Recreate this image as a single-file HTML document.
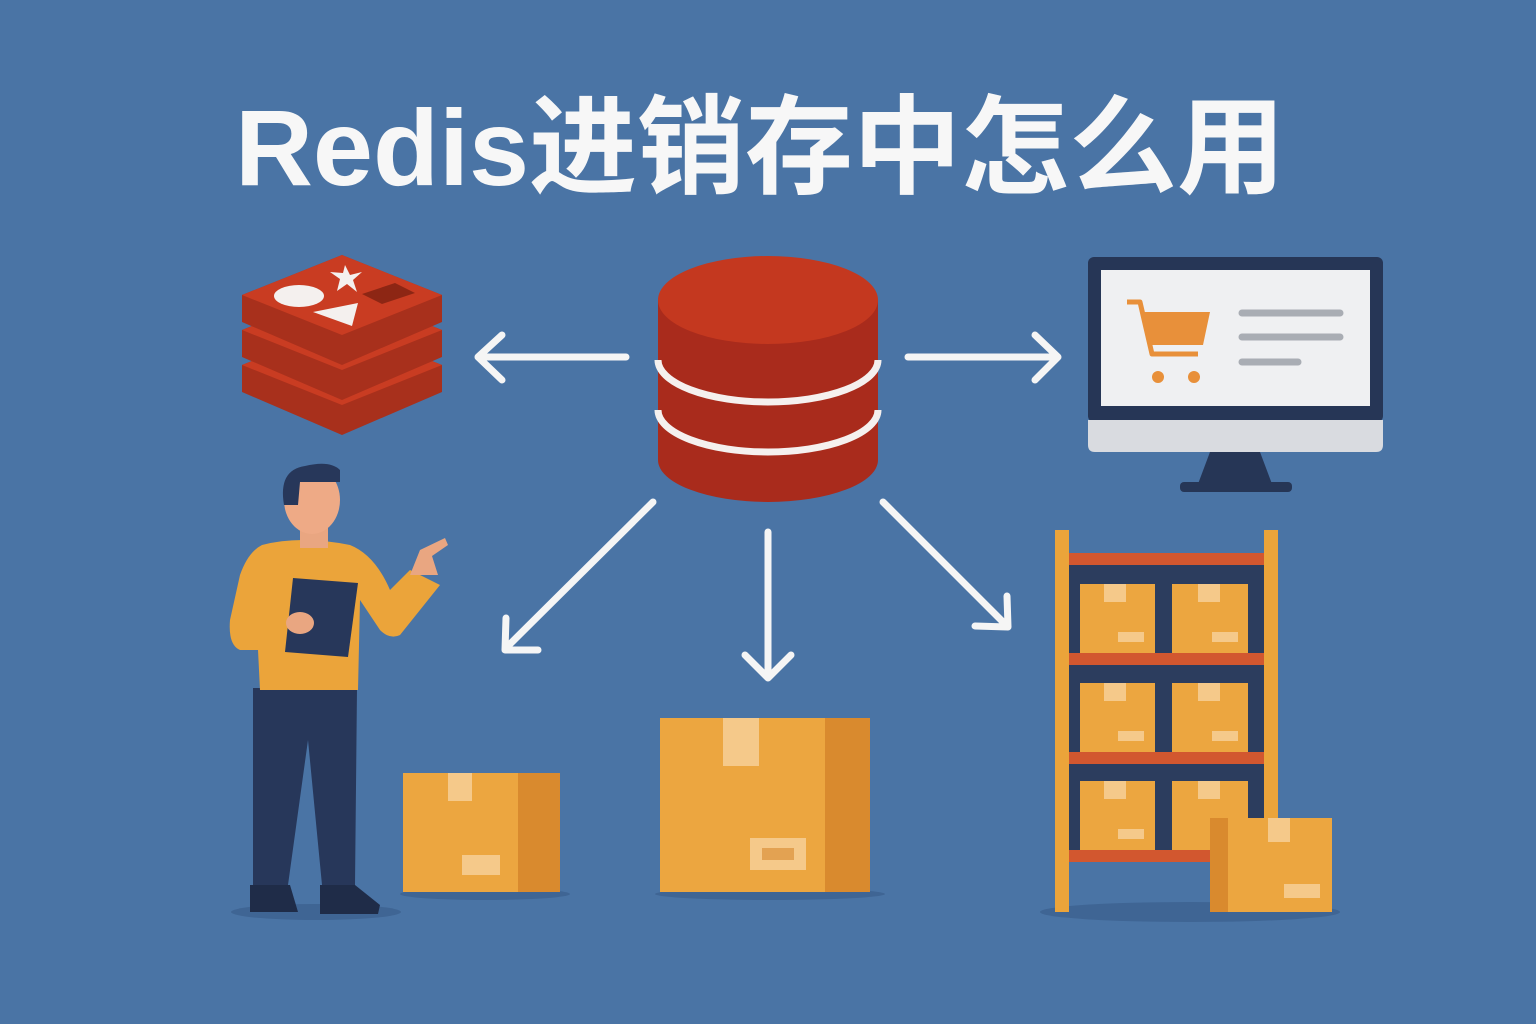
<!DOCTYPE html>
<html><head><meta charset="utf-8"><style>
html,body{margin:0;padding:0;background:#4a74a5;}
svg{display:block}
</style></head><body>
<svg width="1536" height="1024" viewBox="0 0 1536 1024" xmlns="http://www.w3.org/2000/svg">
<rect width="1536" height="1024" fill="#4a74a5"/>
<text x="760" y="185" text-anchor="middle" font-family="'Liberation Sans','Noto Sans CJK SC',sans-serif" font-weight="bold" font-size="108" fill="#f7f7f7">Redis进销存中怎么用</text>

<!-- Redis logo -->
<g>
  <path d="M242 365 L342 325 L442 365 L442 392 L342 435 L242 392 Z" fill="#a8301c"/>
  <path d="M242 365 L342 325 L442 365 L342 405 Z" fill="#c93c22"/>
  <path d="M242 330 L342 290 L442 330 L442 357 L342 400 L242 357 Z" fill="#a8301c"/>
  <path d="M242 330 L342 290 L442 330 L342 370 Z" fill="#c93c22"/>
  <path d="M242 295 L342 255 L442 295 L442 322 L342 365 L242 322 Z" fill="#a8301c"/>
  <path d="M242 295 L342 255 L442 295 L342 335 Z" fill="#c93c22"/>
  <ellipse cx="299" cy="296" rx="25" ry="11" fill="#f4f0ee"/>
  <polygon points="345,265 350,275 362,272 353,280 357,292 347,284 337,291 340,279 330,272 343,273" fill="#f4f0ee"/>
  <polygon points="313,312 358,303 352,326" fill="#f4f0ee"/>
  <polygon points="362,294 395,283 415,293 382,304" fill="#8d2614"/>
</g>

<!-- cylinder -->
<g>
  <path d="M658 300 L658 460 A110 42 0 0 0 878 460 L878 300 Z" fill="#a92b1c"/>
  <path d="M658 360 A110 42 0 0 0 878 360" fill="none" stroke="#f5f0ee" stroke-width="7"/>
  <path d="M658 410 A110 42 0 0 0 878 410" fill="none" stroke="#f5f0ee" stroke-width="7"/>
  <ellipse cx="768" cy="300" rx="110" ry="44" fill="#c4381f"/>
</g>

<!-- arrows -->
<g stroke="#f5f5f5" stroke-width="7" stroke-linecap="round" stroke-linejoin="round" fill="none">
  <path d="M626 357 L480 357 M502 335 L478 357 L502 380"/>
  <path d="M908 357 L1056 357 M1035 335 L1058 357 L1035 380"/>
  <path d="M653 502 L506 648 M506 618 L505 650 L538 650"/>
  <path d="M768 532 L768 676 M745 655 L768 678 L791 655"/>
  <path d="M883 502 L1005 624 M975 626 L1008 627 L1007 596"/>
</g>

<!-- monitor -->
<g>
  <rect x="1088" y="257" width="295" height="165" rx="6" fill="#263656"/>
  <rect x="1101" y="270" width="269" height="136" fill="#eff0f2"/>
  <path d="M1088 420 L1383 420 L1383 445 Q1383 452 1376 452 L1095 452 Q1088 452 1088 445 Z" fill="#d9dbe0"/>
  <polygon points="1210,452 1260,452 1272,484 1198,484" fill="#263656"/>
  <rect x="1180" y="482" width="112" height="10" rx="4" fill="#263656"/>
  <path d="M1127 302 L1140 302 L1152 354 L1198 354" fill="none" stroke="#e8903a" stroke-width="5" stroke-linejoin="round"/>
  <polygon points="1142,312 1210,312 1203,345 1150,345" fill="#e8903a"/>
  <circle cx="1158" cy="377" r="6" fill="#e8903a"/>
  <circle cx="1194" cy="377" r="6" fill="#e8903a"/>
  <g stroke="#a9adb4" stroke-width="7" stroke-linecap="round">
    <line x1="1242" y1="313" x2="1340" y2="313"/>
    <line x1="1242" y1="337" x2="1340" y2="337"/>
    <line x1="1242" y1="362" x2="1298" y2="362"/>
  </g>
</g>

<!-- shadows -->
<ellipse cx="316" cy="912" rx="85" ry="8" fill="#3f6594"/>
<ellipse cx="485" cy="894" rx="85" ry="6" fill="#3f6594"/>
<ellipse cx="770" cy="894" rx="115" ry="6" fill="#3f6594"/>
<ellipse cx="1190" cy="912" rx="150" ry="10" fill="#3f6594"/>

<!-- person -->
<g>
  <path d="M253 688 L357 688 L355 885 L322 885 L308 740 L288 885 L253 885 Z" fill="#27375a"/>
  <path d="M250 885 L290 885 L298 912 L250 912 Z" fill="#1f2c48"/>
  <path d="M320 885 L355 885 L380 905 L378 914 L320 914 Z" fill="#1f2c48"/>
  <path d="M262 545 Q300 535 350 545 Q375 555 390 590 L410 570 L440 585 L400 635 Q390 640 380 630 L360 600 L358 690 L260 690 L258 650 L240 650 Q228 645 230 620 L240 575 Q248 552 262 545 Z" fill="#eba43a"/>
  <path d="M410 575 L420 550 L445 538 L448 545 L432 556 L438 575 Z" fill="#e9a681"/>
  <rect x="300" y="520" width="28" height="28" fill="#e9a681"/>
  <ellipse cx="312" cy="500" rx="28" ry="34" fill="#eeaa86"/>
  <path d="M284 505 Q278 470 305 466 Q330 460 340 470 L340 482 L300 482 L298 505 Z" fill="#27375a"/>
  <path d="M293 578 L358 583 L348 657 L285 652 Z" fill="#27375a"/>
  <ellipse cx="300" cy="623" rx="14" ry="11" fill="#e9a681"/>
</g>

<!-- small box -->
<g>
  <rect x="403" y="773" width="115" height="119" fill="#eca640"/>
  <rect x="518" y="773" width="42" height="119" fill="#d98a2e"/>
  <rect x="448" y="773" width="24" height="28" fill="#f5c98a"/>
  <rect x="462" y="855" width="38" height="20" fill="#f5c98a"/>
</g>

<!-- big box -->
<g>
  <rect x="660" y="718" width="165" height="174" fill="#eca640"/>
  <rect x="825" y="718" width="45" height="174" fill="#d98a2e"/>
  <rect x="723" y="718" width="36" height="48" fill="#f5c98a"/>
  <rect x="750" y="838" width="56" height="32" fill="#f5c98a"/>
  <rect x="762" y="848" width="32" height="12" fill="#e3a252"/>
</g>

<!-- shelf -->
<g>
  <rect x="1068" y="555" width="196" height="300" fill="#2c3d5e"/>
  <rect x="1055" y="530" width="14" height="382" fill="#eba43a"/>
  <rect x="1264" y="530" width="14" height="382" fill="#eba43a"/>
  <rect x="1069" y="553" width="195" height="12" fill="#d2572f"/>
  <rect x="1069" y="653" width="195" height="12" fill="#d2572f"/>
  <rect x="1069" y="752" width="195" height="12" fill="#d2572f"/>
  <rect x="1069" y="850" width="195" height="12" fill="#d2572f"/>
  <g fill="#eca640">
    <rect x="1080" y="584" width="75" height="69"/><rect x="1172" y="584" width="76" height="69"/>
    <rect x="1080" y="683" width="75" height="69"/><rect x="1172" y="683" width="76" height="69"/>
    <rect x="1080" y="781" width="75" height="69"/><rect x="1172" y="781" width="76" height="69"/>
  </g>
  <g fill="#f5c98a">
    <rect x="1104" y="584" width="22" height="18"/><rect x="1198" y="584" width="22" height="18"/>
    <rect x="1118" y="632" width="26" height="10"/><rect x="1212" y="632" width="26" height="10"/>
    <rect x="1104" y="683" width="22" height="18"/><rect x="1198" y="683" width="22" height="18"/>
    <rect x="1118" y="731" width="26" height="10"/><rect x="1212" y="731" width="26" height="10"/>
    <rect x="1104" y="781" width="22" height="18"/><rect x="1198" y="781" width="22" height="18"/>
    <rect x="1118" y="829" width="26" height="10"/>
  </g>
  <rect x="1210" y="818" width="20" height="94" fill="#d98a2e"/>
  <rect x="1228" y="818" width="104" height="94" fill="#eca640"/>
  <rect x="1268" y="818" width="22" height="24" fill="#f5c98a"/>
  <rect x="1284" y="884" width="36" height="14" fill="#f5c98a"/>
</g>
</svg>
</body></html>
